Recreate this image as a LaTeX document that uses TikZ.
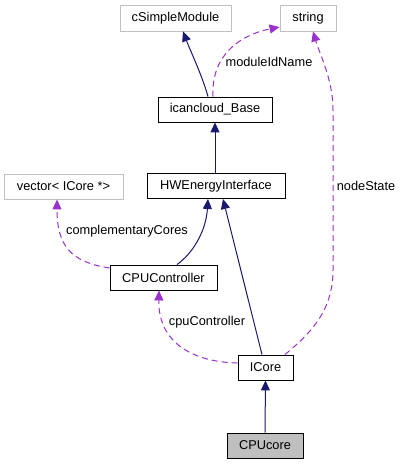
\documentclass[tikz,border=0pt]{standalone}
\usepackage{fontspec}
\setmainfont{Liberation Sans}
\usetikzlibrary{arrows.meta}
\definecolor{inhcol}{HTML}{191970}
\definecolor{usecol}{HTML}{9A32CD}
\definecolor{grayborder}{HTML}{BFBFBF}
\begin{document}
\begin{tikzpicture}[x=1pt,y=-1pt,
  cls/.style={draw=black, line width=0.9pt, fill=white, rectangle, minimum height=25pt, inner sep=0pt, font=\fontsize{12.8}{14}\selectfont},
  ext/.style={cls, draw=grayborder},
  cur/.style={cls, fill=grayborder},
  inh/.style={draw=inhcol, line width=1pt, -{Triangle[length=10pt,width=9pt]}},
  use/.style={draw=usecol, line width=1pt, dashed, dash pattern=on 6pt off 4pt, -{Triangle[length=10pt,width=9pt]}},
  lbl/.style={font=\fontsize{12.8}{14}\selectfont, inner sep=1pt}
]
\useasboundingbox[fill=white] (0,0) rectangle (403,464);
\node[ext, minimum width=111pt, minimum height=26pt] (csm) at (175.5,18) {cSimpleModule};
\node[ext, minimum width=56pt, minimum height=26pt] (str) at (308,18) {string};
\node[cls, minimum width=114pt] (icb) at (215,109.5) {icancloud\_Base};
\node[cls, minimum width=138pt] (hwe) at (216,186) {HWEnergyInterface};
\node[ext, minimum width=119pt] (vec) at (63.5,186.5) {vector< ICore *>};
\node[cls, minimum width=107pt] (cpuc) at (163.5,277.5) {CPUController};
\node[cls, minimum width=55pt] (icore) at (265.5,367.5) {ICore};
\node[cur, minimum width=76pt] (cpucore) at (265,445.5) {CPUcore};

% inheritance
\draw[inh] ([xshift=-7pt]icb.north) .. controls (202,75) and (190,50) .. ([xshift=7.5pt]csm.south);
\draw[inh] ([xshift=-1pt]hwe.north) -- (icb.south);
\draw[inh] ([xshift=13.5pt]cpuc.north) .. controls (192,254) and (206,232) .. ([xshift=-8pt]hwe.south);
\draw[inh] ([xshift=-3.5pt]icore.north) -- ([xshift=7pt]hwe.south);
\draw[inh] (cpucore.north) -- (icore.south);

% usage
\draw[use] ([xshift=-2pt]icb.north) .. controls (211,55) and (240,35) .. ([yshift=-9pt]str.west);
\node[lbl] (l1) at (269,62) {moduleIdName};
\draw[use] ([xshift=19.5pt]icore.north) .. controls (312,332) and (333,310) .. (333,270) -- (333,110) .. controls (333,80) and (320,55) .. ([xshift=5pt]str.south);
\node[lbl] (l2) at (366,186) {nodeState};
\draw[use] ([yshift=4.5pt]icore.west) .. controls (192,362) and (158,342) .. ([xshift=-4.5pt]cpuc.south);
\node[lbl] (l3) at (207,322) {cpuController};
\draw[use] ([yshift=9.5pt]cpuc.west) .. controls (70,262) and (57,245) .. ([xshift=-6.5pt]vec.south);
\node[lbl] (l4) at (127,231) {complementaryCores};
\end{tikzpicture}
\end{document}
